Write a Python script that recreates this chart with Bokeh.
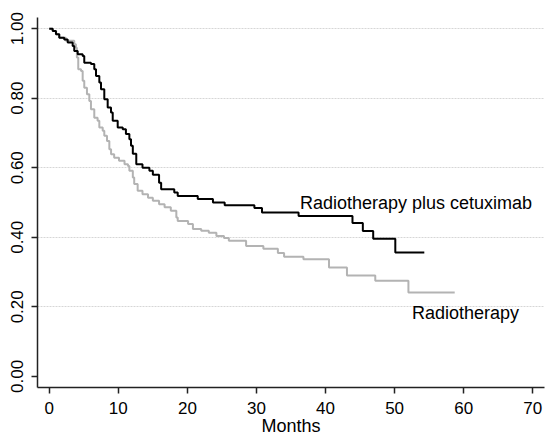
from bokeh.plotting import figure
from bokeh.models import Range1d, FixedTicker, PrintfTickFormatter, Label
from bokeh.embed import file_html
from bokeh.resources import INLINE

# Radiotherapy plus cetuximab (black curve): step times (months) and survival after each step
cetux_t = [0, 0.5, 0.97, 1.45, 2.17, 2.67, 3.39, 3.62, 4.12, 4.84, 5.07, 6.04, 6.52, 6.77, 7.25,
           7.49, 7.97, 8.46, 8.94, 9.19, 9.91, 10.64, 11.1, 11.6, 11.84, 12.1, 12.6, 13.5, 14.5,
           15.0, 15.9, 16.2, 18.1, 18.6, 21.5, 23.7, 25.4, 29.7, 30.8, 36.1, 43.9, 45.4, 46.9,
           50.1, 54.3]
cetux_s = [1.0, 0.993, 0.984, 0.974, 0.969, 0.96, 0.95, 0.936, 0.926, 0.921, 0.902, 0.898, 0.883,
           0.864, 0.845, 0.826, 0.797, 0.773, 0.759, 0.735, 0.716, 0.711, 0.697, 0.682, 0.663,
           0.64, 0.61, 0.60, 0.591, 0.58, 0.557, 0.538, 0.529, 0.519, 0.51, 0.50, 0.492, 0.484,
           0.471, 0.461, 0.441, 0.418, 0.396, 0.356, 0.356]

# Radiotherapy alone (grey curve)
radio_t = [0, 0.5, 1.0, 1.45, 2.4, 3.62, 3.86, 4.0, 4.2, 4.6, 4.84, 5.07, 5.46, 5.8, 6.04, 6.52,
           7.0, 7.25, 7.74, 7.97, 8.36, 8.7, 8.95, 9.4, 10.1, 10.9, 11.4, 11.6, 12.1, 12.3, 12.8,
           13.5, 14.3, 15.0, 15.9, 16.7, 17.6, 18.4, 18.6, 20.1, 20.8, 22.0, 23.1, 24.2, 25.3,
           26.0, 28.5, 31.0, 33.1, 34.0, 36.8, 40.5, 43.1, 47.2, 52.0, 58.7]
radio_s = [1.0, 0.993, 0.984, 0.974, 0.965, 0.955, 0.945, 0.917, 0.883, 0.878, 0.85, 0.83, 0.811,
           0.792, 0.768, 0.744, 0.735, 0.716, 0.706, 0.692, 0.677, 0.653, 0.639, 0.629, 0.62,
           0.61, 0.605, 0.591, 0.572, 0.553, 0.534, 0.524, 0.514, 0.505, 0.495, 0.486, 0.476,
           0.457, 0.447, 0.438, 0.424, 0.419, 0.413, 0.404, 0.398, 0.39, 0.375, 0.367, 0.355,
           0.344, 0.337, 0.313, 0.29, 0.275, 0.241, 0.241]

x_ticks = [0, 10, 20, 30, 40, 50, 60, 70]
y_ticks = [0.0, 0.2, 0.4, 0.6, 0.8, 1.0]
grid_ticks = [0.2, 0.4, 0.6, 0.8, 1.0]

fonte = "Liberation Sans"

p = figure(width=550, height=438, output_backend="svg", toolbar_location=None,
           x_range=Range1d(-1.7, 71.7), y_range=Range1d(-0.032, 1.032))
p.min_border_left = 37
p.min_border_top = 17
p.min_border_right = 6
p.min_border_bottom = 51
p.outline_line_color = None
p.background_fill_color = "white"

p.step(radio_t, radio_s, mode="after", line_color="#b3b3b3", line_width=2)
p.step(cetux_t, cetux_s, mode="after", line_color="black", line_width=2)

p.xgrid.visible = False
p.ygrid.ticker = FixedTicker(ticks=grid_ticks)
p.ygrid.grid_line_color = "#d6d6d6"
p.ygrid.grid_line_dash = "2 1"
p.ygrid.grid_line_width = 1

p.xaxis.ticker = FixedTicker(ticks=x_ticks)
p.yaxis.ticker = FixedTicker(ticks=y_ticks)
p.yaxis.formatter = PrintfTickFormatter(format="%.2f")
p.xaxis.minor_tick_line_color = None
p.yaxis.minor_tick_line_color = None
p.axis.axis_line_color = "#222222"
p.axis.axis_line_width = 1.5
p.axis.major_tick_line_color = "#222222"
p.axis.major_tick_line_width = 1.5
p.axis.major_tick_in = 0
p.axis.major_tick_out = 6
p.axis.major_label_text_font = fonte
p.axis.major_label_text_font_size = "17px"
p.axis.major_label_text_color = "black"
p.xaxis.major_label_standoff = 8
p.yaxis.major_label_standoff = 8
p.yaxis.major_label_orientation = "vertical"
p.xaxis.axis_label = "Months"
p.xaxis.axis_label_text_font = fonte
p.xaxis.axis_label_text_font_size = "18px"
p.xaxis.axis_label_text_font_style = "normal"
p.xaxis.axis_label_text_color = "black"
p.xaxis.axis_label_standoff = -1

p.add_layout(Label(x=36.3, y=0.50, text="Radiotherapy plus cetuximab", text_font=fonte,
                   text_font_size="18px", text_color="black", text_baseline="alphabetic"))
p.add_layout(Label(x=52.5, y=0.182, text="Radiotherapy", text_font=fonte,
                   text_font_size="18px", text_color="black", text_baseline="alphabetic"))

open("out.html", "w").write(file_html(p, INLINE))
